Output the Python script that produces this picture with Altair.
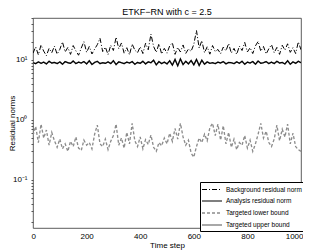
import altair as alt
import pandas as pd

steps = list(range(0, 1001, 10))

background = [13.0, 16.5, 12.2, 17.8, 14.0, 11.8, 15.6, 13.2, 17.0, 12.5,
              15.0, 20.0, 13.6, 16.2, 12.4, 17.4, 14.2, 12.0, 15.8, 20.2,
              13.4, 16.8, 12.6, 15.2, 18.0, 23.0, 13.8, 16.4, 12.3, 17.6,
              14.4, 24.0, 15.4, 19.2, 13.0, 16.0, 12.2, 18.4, 14.6, 13.2,
              16.6, 12.8, 19.0, 14.8, 27.0, 16.8, 13.4, 18.6, 12.6, 15.6,
              13.0, 17.2, 19.4, 12.4, 16.2, 13.6, 17.8, 12.9, 15.2, 14.0,
              18.2, 31.0, 15.8, 21.0, 13.2, 16.6, 12.5, 17.4, 13.8, 15.0,
              12.7, 16.4, 14.2, 18.8, 13.0, 15.6, 12.4, 17.0, 14.4, 19.6,
              13.6, 16.0, 12.8, 17.2, 20.4, 14.0, 16.8, 12.6, 15.4, 18.0,
              13.2, 16.2, 12.4, 17.6, 14.6, 18.6, 13.4, 16.0, 12.8, 20.0, 14.8]

analysis = [9.0, 8.7, 9.3, 8.8, 9.2, 8.6, 9.5, 8.9, 9.1, 8.7,
            9.3, 8.5, 9.4, 9.0, 8.8, 9.6, 8.7, 9.2, 8.9, 9.4,
            8.6, 9.7, 8.4, 9.1, 9.5, 8.7, 9.0, 8.8, 9.3, 8.7,
            9.7, 8.4, 9.3, 9.0, 8.7, 9.2, 8.9, 9.4, 8.5, 9.1,
            8.8, 9.5, 8.6, 9.3, 9.0, 9.9, 8.3, 9.4, 8.7, 9.2,
            8.6, 9.7, 8.2, 10.2, 8.0, 10.4, 8.4, 9.5, 8.6, 9.8,
            8.3, 10.2, 8.1, 9.9, 8.5, 9.3, 8.8, 9.0, 8.7, 9.2,
            8.9, 9.4, 8.6, 9.1, 9.0, 8.7, 9.3, 8.8, 9.5, 8.5,
            9.2, 8.9, 9.4, 8.5, 9.6, 8.8, 9.0, 9.4, 8.7, 9.2,
            8.7, 9.5, 8.9, 9.1, 8.6, 9.7, 8.5, 9.3, 8.8, 9.5, 9.0]

lower_bound = [0.55, 0.78, 0.42, 0.85, 0.50, 0.68, 0.38, 0.62, 0.45, 0.35,
               0.48, 0.33, 0.40, 0.30, 0.44, 0.36, 0.52, 0.34, 0.31, 0.46,
               0.38, 0.42, 0.33, 0.58, 0.82, 0.40, 0.36, 0.48, 0.32, 0.44,
               0.55, 0.85, 0.38, 0.50, 0.34, 0.62, 0.40, 0.88, 0.45, 0.36,
               0.52, 0.33, 0.47, 0.39, 0.56, 0.35, 0.30, 0.42, 0.37, 0.50,
               0.40, 0.60, 0.44, 0.72, 0.48, 0.88, 0.52, 0.38, 0.46, 0.28,
               0.24, 0.36, 0.50, 0.42, 0.58, 0.45, 0.75, 0.88, 0.55, 0.85,
               0.46, 0.80, 0.40, 0.62, 0.35, 0.48, 0.32, 0.42, 0.38, 0.55,
               0.34, 0.46, 0.30, 0.40, 0.58, 0.88, 0.50, 0.65, 0.42, 0.36,
               0.48, 0.82, 0.45, 0.70, 0.52, 0.85, 0.40, 0.60, 0.36, 0.32, 0.30]

# upper bound lies under the analysis norm (hidden by it)
upper_bound = list(analysis)

series_names = ["Background residual norm", "Analysis residual norm",
                "Targeted lower bound", "Targeted upper bound"]
series_values = [background, analysis, lower_bound, upper_bound]

x_ticks = [0, 200, 400, 600, 800, 1000]
y_ticks = [m * d for d in [0.01, 0.1, 1, 10] for m in range(1, 10)
           if 0.0158 <= m * d <= 50.1]

rows = []
for name, vals in zip(series_names, series_values):
    for s, v in zip(steps, vals):
        rows.append({"step": s, "value": v, "series": name})
df = pd.DataFrame(rows)

FONT = "Liberation Sans"

enc = dict(
    x=alt.X("step:Q", scale=alt.Scale(domain=[0, 1000], nice=False),
            axis=alt.Axis(values=x_ticks, title="Time step", grid=False, format="d",
                          tickSize=0, labelPadding=4, titlePadding=1,
                          labelFlush=True, labelFlushOffset=2,
                          labelFontSize=8, titleFontSize=8,
                          labelFont=FONT, titleFont=FONT,
                          titleFontWeight="normal", domain=False,
                          labelColor="black", titleColor="black")),
    y=alt.Y("value:Q",
            scale=alt.Scale(type="log", domain=[0.0158, 50.1], nice=False),
            axis=alt.Axis(values=y_ticks, title="Residual norms", grid=False,
                          tickSize=2, tickColor="#555555",
                          labelExpr="datum.value == 10 ? '10¹' : datum.value == 1 ? '10⁰' : (datum.value > 0.099 && datum.value < 0.101) ? '10⁻¹' : ''",
                          labelPadding=4,
                          titleX=-21, titleY=105, titleAngle=270,
                          titleAlign="center", titleBaseline="middle",
                          labelFontSize=8, titleFontSize=8,
                          labelFont=FONT, titleFont=FONT,
                          titleFontWeight="normal", domain=False,
                          labelColor="black", titleColor="black")),
    color=alt.Color("series:N",
                    scale=alt.Scale(domain=series_names,
                                    range=["#000000", "#000000", "#8c8c8c", "#8c8c8c"]),
                    legend=alt.Legend(title=None)),
    strokeDash=alt.StrokeDash("series:N",
                              scale=alt.Scale(domain=series_names,
                                              range=[[5, 2, 1, 2], [1, 0], [3, 2], [1, 0]]),
                              legend=alt.Legend(title=None)),
    strokeWidth=alt.StrokeWidth("series:N",
                                scale=alt.Scale(domain=series_names,
                                                range=[1.0, 1.5, 0.8, 0.8]),
                                legend=alt.Legend(title=None)),
)

base = alt.Chart(df).mark_line(clip=True).encode(**enc)

layers = [base.transform_filter(alt.datum.series == n)
          for n in ["Targeted upper bound", "Targeted lower bound",
                    "Background residual norm", "Analysis residual norm"]]

chart = alt.layer(*layers).properties(
    width=268, height=210,
    background="white",
    autosize=alt.AutoSizeParams(type="none"),
    padding={"left": 25, "top": 10, "right": 2, "bottom": 24},
    title=alt.Title("ETKF−RN with c = 2.5", fontSize=9, fontWeight="normal",
                    font=FONT, color="black", offset=1),
).configure_view(
    stroke="#333333", strokeWidth=0.8
).configure_legend(
    orient="none", legendX=167, legendY=164,
    strokeColor="black", fillColor="white", padding=2, cornerRadius=0,
    labelFontSize=6.5, labelFont=FONT, labelColor="black",
    symbolType="M-2,0H2", symbolSize=100, rowPadding=2, labelOffset=8,
    symbolOffset=4, labelLimit=200,
)

chart.save("out.html", embed_options={"renderer": "svg", "actions": False})
